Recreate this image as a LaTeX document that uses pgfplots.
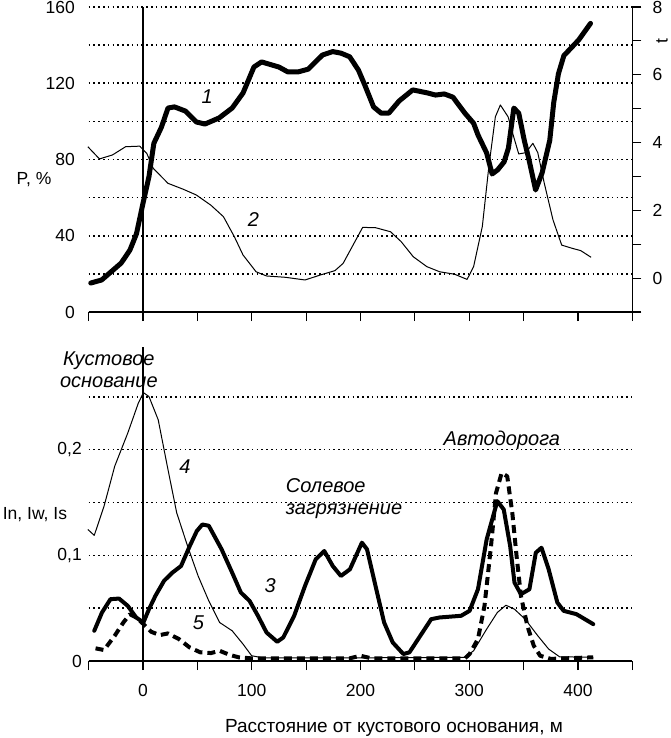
\documentclass[border=0pt]{standalone}
\usepackage{pgfplots}
\pgfplotsset{compat=1.18}
\usepackage{fontspec}
\setmainfont{Liberation Sans}
\newcommand{\tfont}{\fontsize{17.5}{21}\selectfont}
\newcommand{\afont}{\itshape\fontsize{20}{22}\selectfont}
\pgfplotsset{
  base/.style={scale only axis, width=543.8pt, xmin=-50, xmax=450, clip=false,
    axis line style={line width=1.2pt, black},
    tick style={line width=1.2pt, black},
    every tick label/.append style={inner sep=0pt, font=\tfont},
    /pgf/number format/assume math mode=true,
    /pgf/number format/use comma,
    grid style={line width=1.6pt, dash pattern=on 1.6pt off 3.2pt, black},
  },
  thickA/.style={black, line width=5pt, line join=round, line cap=round},
  thin/.style={black, line width=1pt, line join=round},
  thickB/.style={black, line width=4pt, line join=round, line cap=round},
  dashB/.style={black, line width=4pt, line join=round, dash pattern=on 8pt off 5pt},
}
\begin{document}
\tfont
\begin{tikzpicture}
\useasboundingbox (0pt,0pt) rectangle (671pt,-738pt);
% ---------------- top panel -----------------
\begin{axis}[base, at={(88.6pt,-312pt)}, anchor=south west, height=305pt,
  ymin=0, ymax=160,
  axis x line*=bottom, axis y line*=left, y axis line style={draw=none},
  xtick={-50,0,...,450}, xticklabels={}, xtick align=outside, major tick length=9pt,
  ytick={0,20,...,160}, yticklabels={0,,40,,80,,120,,160},
  ymajorgrids, y tick style={draw=none},
  yticklabel style={anchor=east, xshift=-13.6pt},
]
\addplot[black, line width=1.2pt] coordinates {(0,0) (0,160)};
\addplot[thin] coordinates {
(-50.7,86.7) (-40,80.3) (-28,82.4) (-16,86.7) (-3,87) (3.5,83.2) (9.4,75.4)
(23,67.5) (37,64.4) (49,61.4) (62.5,56) (74,50) (84,39.5) (92,29.9) (104,21.1)
(113.6,18.9) (131,18.2) (149,16.8) (163,19.4) (176.5,21.7) (184,25.5) (194,36)
(202,44.4) (214,44.2) (227.6,42.1) (237.4,36.9) (248.5,29) (261,23.8) (272.8,21.1)
(286.6,19.8) (298,17.1) (304,23.8) (312,44.8) (318,76.2) (324,102.4) (328.6,108.6)
(335.7,102.4) (340.8,92) (345.5,82.9) (352,83.6) (358.5,88.5) (363,83.6) (369,67.5)
(377,48.3) (385,35.1) (394.7,33.4) (402.5,32.2) (412,28.7)};
\addplot[thickA] coordinates {
(-48,15.2) (-38,16.8) (-20,25.7) (-12,32.5) (-6,41) (0,57) (5.5,71) (10,88.5)
(17,97) (23,107) (29,107.6) (39,105.4) (49,99.7) (57,98.6) (70,101.8) (82,107)
(92,114.9) (102,128.5) (109,131.2) (125,128.5) (133,126) (143,126) (152,127.4)
(165,134.8) (174.5,136.6) (182,135.8) (190,133.9) (198,127) (204,119) (212,107.6)
(219,104.3) (226,104.3) (235.5,110.7) (248,116.5) (261,115) (269,113.8) (277,114.4)
(285,112.7) (296,104.3) (304,99) (308,92.9) (316,83.4) (321,72.4) (326,74.5)
(332,78.7) (336,86) (341,107) (345.5,104.3) (350.6,90) (355,79.7) (361,64) (367,73)
(374,90) (377.7,110) (382,125) (387,134.5) (400.6,142.7) (411.5,151.4)};
\node[font=\afont] at (axis cs:59,112.9) {1};
\node[font=\afont] at (axis cs:101.5,48.3) {2};
\node at (axis description cs:-0.1004,0.433) {P, \%};
\end{axis}
\begin{axis}[base, at={(88.6pt,-312pt)}, anchor=south west, height=305pt,
  ymin=-1, ymax=8,
  axis y line*=right, axis x line=none,
  ytick={-1,0,...,8}, yticklabels={,0,,2,,4,,6,,8},
  ytick align=outside, major tick length=9pt,
  yticklabel style={anchor=west, xshift=11pt},
]
\addplot[draw=none] coordinates {(0,0)};
\node[rotate=90] at (axis description cs:1.0544,0.8885) {t};
\end{axis}
% ---------------- bottom panel -----------------
\begin{axis}[base, at={(88.6pt,-661pt)}, anchor=south west, height=317pt,
  ymin=0, ymax=0.3,
  axis x line*=bottom, axis y line*=left, y axis line style={draw=none},
  xtick={-50,0,...,450}, xticklabels={,0,,100,,200,,300,,400,},
  xtick align=outside, major tick length=9pt,
  xticklabel style={anchor=north, yshift=-14pt},
  ytick={0,0.05,0.1,0.15,0.2,0.25}, yticklabels={0,,{0,1},,{0,2},},
  ymajorgrids, y tick style={draw=none},
  yticklabel style={anchor=east, xshift=-6.6pt},
]
\addplot[black, line width=1.2pt] coordinates {(0,0) (0,0.297)};
\addplot[thin] coordinates {
(-50.7,0.1245) (-44.8,0.1189) (-35.8,0.1465) (-26,0.1843) (-14,0.2157) (-4.3,0.244)
(0.4,0.254) (5.5,0.2503) (14,0.2283) (23,0.1811) (31,0.1403) (41,0.1088) (50.7,0.0805)
(60.5,0.0569) (70.4,0.0365) (82,0.0286) (92,0.016) (99.9,0.005) (110,0.003) (200,0.003)
(296,0.0035) (304,0.0097) (316,0.0302) (325.8,0.0459) (333.7,0.0528) (341.6,0.049)
(351.4,0.0396) (363,0.0239) (373,0.0113) (383,0.004) (414,0.0035)};
\addplot[dashB] coordinates {
(-43.6,0.012) (-35.8,0.0104) (-26,0.0239) (-18,0.0365) (-12,0.0443) (-6.3,0.0412)
(0.4,0.035) (7.5,0.0277) (15.3,0.0245) (23,0.0261) (33,0.0208) (42.8,0.0129)
(52.7,0.0082) (62.5,0.0075) (70.4,0.0097) (80,0.0057) (88,0.0035) (100,0.0025)
(190,0.0025) (200,0.005) (210,0.0025) (296,0.0025) (300.3,0.0066) (308,0.0208)
(314,0.0522) (320,0.1088) (324.6,0.159) (329.8,0.178) (334.9,0.1748) (339.6,0.14)
(343.5,0.0994) (347.5,0.0616) (353.4,0.0333) (359.3,0.0145) (365.2,0.005) (375,0.002)
(414,0.0035)};
\addplot[thickB] coordinates {
(-44.8,0.0286) (-37.7,0.0459) (-29.9,0.0585) (-22,0.0591) (-14,0.0522) (-6.3,0.0412)
(0.4,0.0365) (5.5,0.049) (11.4,0.0616) (19.3,0.0758) (27,0.0836) (35,0.0899)
(43,0.1088) (49.5,0.123) (54.6,0.1292) (60.5,0.128) (72.3,0.1057) (82,0.0836)
(90,0.0648) (98,0.0569) (105.7,0.0428) (113.6,0.027) (123.4,0.0182) (129,0.0223)
(139,0.0428) (149,0.0711) (158.8,0.0962) (166.7,0.1041) (174.5,0.0899) (182,0.0805)
(190.3,0.0868) (201.3,0.112) (206,0.1057) (213.8,0.0711) (221.7,0.0365) (229.6,0.0176)
(239.4,0.0066) (245,0.0082) (255,0.0239) (265,0.0396) (272.8,0.0412) (292.5,0.0428)
(300.3,0.0475) (308,0.0679) (316,0.1151) (325.8,0.1513) (331.7,0.1434) (337.6,0.1088)
(341.6,0.0742) (347.5,0.0632) (355.3,0.0679) (361.2,0.1025) (366.4,0.1072) (373,0.0868)
(381,0.0553) (386.8,0.0475) (398.6,0.0443) (414,0.0349)};
\node[font=\afont, align=center] at (axis cs:-31.4,0.276) {Кустовое\\основание};
\node[font=\afont] at (axis cs:38.5,0.184) {4};
\node[font=\afont] at (axis cs:117,0.071) {3};
\node[font=\afont] at (axis cs:51,0.0365) {5};
\node[font=\afont, align=left, anchor=west] at (axis cs:125.8,0.1535) {Солевое\\загрязнение};
\node[font=\afont] at (axis cs:330,0.209) {Автодорога};
\node at (axis description cs:-0.0986,0.4606) {In, Iw, Is};
\node[font=\fontsize{19}{22}\selectfont] at (axis description cs:0.5616,-0.2114) {Расстояние от кустового основания, м};
\end{axis}
\end{tikzpicture}
\end{document}
